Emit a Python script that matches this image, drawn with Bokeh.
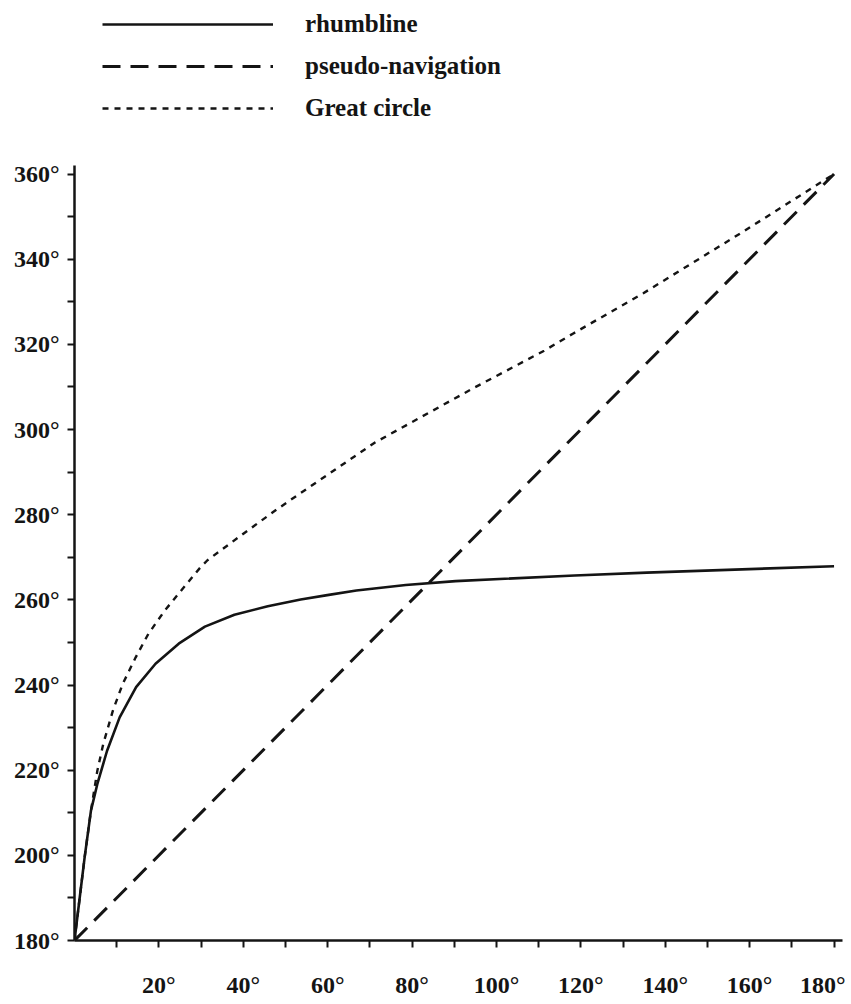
from bokeh.plotting import figure
from bokeh.layouts import column
from bokeh.models import FixedTicker, PrintfTickFormatter, Legend, LegendItem, Range1d
from bokeh.embed import file_html
from bokeh.resources import INLINE

# Data (longitude difference vs. course, degrees)
rhumb_x = [0, 2.4, 3.9, 5.4, 7.7, 10.7, 14.6, 19.2, 24.7, 30.9, 37.9, 45.8, 53.6, 59.9, 66.8, 78.5, 90.3, 118.5, 135.6, 180]
rhumb_y = [180, 199.5, 210.5, 216.7, 224.5, 232.4, 239.5, 245.0, 249.7, 253.7, 256.5, 258.5, 260.1, 261.1, 262.2, 263.5, 264.4, 265.7, 266.4, 267.9]

pseudo_x = [0, 180]
pseudo_y = [180, 360]

great_x = [0, 2.4, 3.9, 5.4, 6.8, 9.1, 11.4, 14.5, 17.5, 21.4, 25.3, 29.9, 31.5, 40.1, 47.9, 52.6, 71.3, 94.7, 111.3, 118.1, 134.8, 158.2, 180]
great_y = [180, 199.5, 210.5, 219.8, 226.1, 234.0, 240.2, 246.5, 252.0, 257.5, 262.2, 267.7, 269.3, 275.6, 281.2, 284.4, 297.0, 309.8, 318.5, 322.5, 332.0, 346.3, 360]

x_major = [20, 40, 60, 80, 100, 120, 140, 160, 180]
x_minor = [10, 30, 50, 70, 90, 110, 130, 150, 170]
y_major = [180, 200, 220, 240, 260, 280, 300, 320, 340, 360]
y_minor = [190, 210, 230, 250, 270, 290, 310, 330, 350]

labels = ["rhumbline", "pseudo-navigation", "Great circle"]

INK = "#141414"
FONT = "Liberation Serif"

STYLES = [dict(line_color=INK, line_width=2.6, line_join="round"),
          dict(line_color=INK, line_width=3, line_dash="18 10"),
          dict(line_color=INK, line_width=2.4, line_dash="6 6", line_join="round")]
SERIES = [(rhumb_x, rhumb_y), (pseudo_x, pseudo_y), (great_x, great_y)]

# ---- main chart
p = figure(width=845, height=840, output_backend="svg", toolbar_location=None,
           x_range=Range1d(0, 182), y_range=Range1d(180, 362),
           min_border_left=74, min_border_right=3, min_border_top=5, min_border_bottom=56)
p.outline_line_color = None
p.xgrid.visible = False
p.ygrid.visible = False
p.background_fill_color = "white"
p.border_fill_color = "white"

for (xs, ys), s in zip(SERIES, STYLES):
    p.line(xs, ys, **s)

for ax, maj, mn in ((p.xaxis[0], x_major, x_minor), (p.yaxis[0], y_major, y_minor)):
    ax.ticker = FixedTicker(ticks=maj, minor_ticks=mn)
    ax.formatter = PrintfTickFormatter(format="%d°")
    ax.axis_line_color = INK
    ax.axis_line_width = 2.5
    ax.major_tick_line_color = INK
    ax.minor_tick_line_color = INK
    ax.major_tick_line_width = 2
    ax.minor_tick_line_width = 2
    ax.major_tick_in = 0
    ax.major_tick_out = 7
    ax.minor_tick_in = 0
    ax.minor_tick_out = 7
    ax.major_label_text_font = FONT
    ax.major_label_text_font_style = "bold"
    ax.major_label_text_font_size = "24px"
    ax.major_label_text_color = INK

p.xaxis[0].major_label_standoff = 24
p.yaxis[0].major_label_standoff = 8

# ---- legend strip above the chart (same series, ranges keep them out of view)
lf = figure(width=845, height=160, output_backend="svg", toolbar_location=None,
            x_axis_type=None, y_axis_type=None, min_border=0,
            x_range=Range1d(1000, 1001), y_range=Range1d(1000, 1001))
lf.outline_line_color = None
lf.xgrid.visible = False
lf.ygrid.visible = False
lf.border_fill_color = "white"
lf.background_fill_color = "white"
lr = [lf.line(xs, ys, **s) for (xs, ys), s in zip(SERIES, STYLES)]

legend = Legend(items=[LegendItem(label=lab, renderers=[r]) for lab, r in zip(labels, lr)],
                location=(28, 38), orientation="vertical")
legend.glyph_width = 171
legend.glyph_height = 20
legend.label_height = 20
legend.spacing = 14
legend.padding = 0
legend.margin = 0
legend.label_standoff = 32
legend.label_text_font = FONT
legend.label_text_font_style = "bold"
legend.label_text_font_size = "25px"
legend.label_text_color = INK
legend.border_line_color = None
legend.background_fill_alpha = 0
lf.add_layout(legend, "center")

layout = column(lf, p, spacing=0)
open("out.html", "w").write(file_html(layout, INLINE))
